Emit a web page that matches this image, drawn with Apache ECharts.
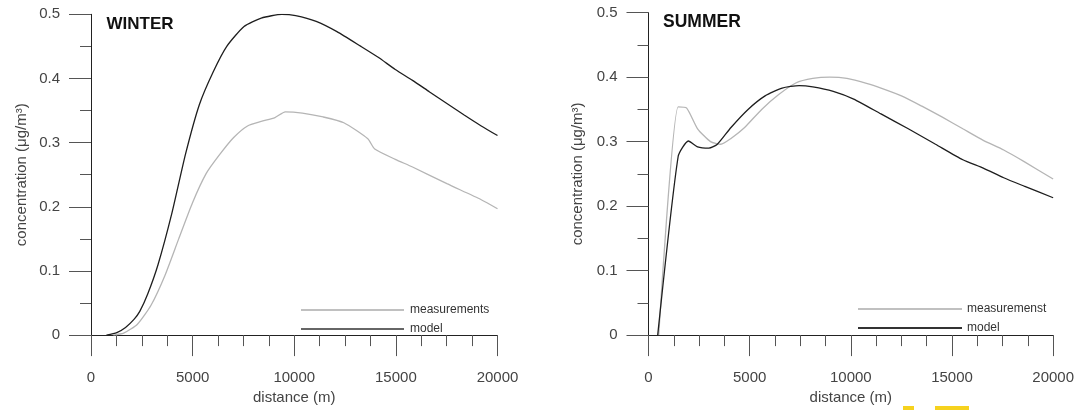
<!DOCTYPE html>
<html>
<head>
<meta charset="utf-8">
<script src="https://cdn.jsdelivr.net/npm/echarts@6/dist/echarts.min.js"></script>
<style>
html,body{margin:0;padding:0;background:#fff;}
#c{width:1077px;height:410px;}
</style>
</head>
<body>
<div id="c"></div>
<script>
// ---- data ----
const xTickLabels = ['0', '5000', '10000', '15000', '20000'];
const yTickLabels = ['0', '0.1', '0.2', '0.3', '0.4', '0.5'];

const winterModelX = [760, 1270, 1700, 2115, 2400, 2790, 3300, 3980, 4650, 5330, 6010, 6680, 7530, 8375, 9390, 10070, 11080, 12100, 13280, 14130, 14970, 15820, 16660, 17510, 18360, 19200, 20000];
const winterModelY = [0, 0.004, 0.012, 0.0245, 0.037, 0.064, 0.11, 0.19, 0.282, 0.359, 0.41, 0.45, 0.481, 0.494, 0.5, 0.498, 0.489, 0.473, 0.45, 0.433, 0.414, 0.397, 0.379, 0.361, 0.343, 0.326, 0.311];

const winterMeasX = [1100, 1607, 2284, 2960, 3638, 4315, 4990, 5670, 6345, 7020, 7700, 8375, 9050, 9560, 10400, 11420, 12440, 13620, 13960, 14970, 15820, 17510, 19200, 20000];
const winterMeasY = [0, 0.003, 0.017, 0.047, 0.093, 0.15, 0.206, 0.252, 0.282, 0.308, 0.326, 0.333, 0.339, 0.348, 0.346, 0.34, 0.331, 0.306, 0.29, 0.274, 0.262, 0.236, 0.211, 0.197];

const summerMeasX = [505, 1466, 1887, 2426, 3066, 3572, 4077, 4751, 5594, 6436, 7279, 8121, 8964, 9806, 10817, 11491, 12502, 13513, 14524, 15535, 16546, 17557, 18568, 20000];
const summerMeasY = [0, 0.354, 0.352, 0.32, 0.3, 0.296, 0.305, 0.322, 0.35, 0.373, 0.391, 0.398, 0.4, 0.398, 0.39, 0.383, 0.371, 0.355, 0.338, 0.32, 0.302, 0.287, 0.269, 0.242];

const summerModelX = [455, 1466, 1971, 2426, 2982, 3403, 4077, 4920, 5762, 6605, 7447, 8121, 9132, 10143, 11491, 12839, 14187, 15535, 16546, 17557, 18568, 20000];
const summerModelY = [0, 0.277, 0.301, 0.292, 0.29, 0.296, 0.322, 0.35, 0.371, 0.383, 0.387, 0.385, 0.378, 0.366, 0.343, 0.32, 0.296, 0.272, 0.259, 0.244, 0.231, 0.213];

const zip = (xs, ys) => xs.map((x, i) => [x, ys[i]]);

const FONT = 'Liberation Sans, Arial, sans-serif';
const MEAS_COLOR = '#b5b5b5';
const MODEL_COLOR = '#1e1e1e';

function xAxisCfg(gridIndex) {
  return {
    type: 'value', gridIndex, min: 0, max: 20000, interval: 5000,
    name: 'distance (m)', nameLocation: 'middle', nameGap: 51,
    nameTextStyle: { fontFamily: FONT, fontSize: 15, color: '#444' },
    axisLine: { show: true, onZero: false, lineStyle: { color: '#222', width: 1 } },
    axisTick: { show: true, length: 21, lineStyle: { color: '#555', width: 1 } },
    minorTick: { show: true, splitNumber: 4, length: 11, lineStyle: { color: '#555', width: 1 } },
    splitLine: { show: false },
    axisLabel: { margin: 35, fontFamily: FONT, fontSize: 15, color: '#444',
      formatter: v => xTickLabels[Math.round(v / 5000)] },
  };
}
function yAxisCfg(gridIndex, gap) {
  return {
    type: 'value', gridIndex, min: 0, max: 0.5, interval: 0.1,
    name: 'concentration (\u03bcg/m\u00b3)', nameLocation: 'middle', nameGap: gap,
    nameTextStyle: { fontFamily: FONT, fontSize: 15, color: '#444' },
    axisLine: { show: true, onZero: false, lineStyle: { color: '#222', width: 1 } },
    axisTick: { show: true, length: 22, lineStyle: { color: '#555', width: 1 } },
    minorTick: { show: true, splitNumber: 2, length: 11, lineStyle: { color: '#555', width: 1 } },
    splitLine: { show: false },
    axisLabel: { margin: 31, fontFamily: FONT, fontSize: 15, color: '#444',
      formatter: v => yTickLabels[Math.round(v * 10)] },
  };
}
function lineSeries(name, data, color, idx) {
  return {
    name, type: 'line', xAxisIndex: idx, yAxisIndex: idx, data,
    showSymbol: false, symbol: 'none', smooth: 0.2,
    lineStyle: { color, width: 1.3 }, itemStyle: { color },
    animation: false,
  };
}

const chart = echarts.init(document.getElementById('c'));
chart.setOption({
  animation: false,
  backgroundColor: '#fff',
  grid: [
    { left: 91, top: 14.3, width: 406.5, height: 326.7 },
    { left: 648.5, top: 12.7, width: 406.5, height: 327.3 },
  ],
  xAxis: [xAxisCfg(0), xAxisCfg(1)],
  yAxis: [yAxisCfg(0, 62), yAxisCfg(1, 63)],
  legend: [
    {
      orient: 'vertical', left: 296, top: 295.5, itemWidth: 103, itemHeight: 2, itemGap: 0,
      icon: 'rect',
      textStyle: { fontFamily: FONT, fontSize: 12, color: '#333', lineHeight: 19, padding: [0, 0, 0, 1] },
      data: [
        { name: 'measurements', itemStyle: { color: '#c0c0c0' } },
        { name: 'model', itemStyle: { color: '#666' } },
      ],
      selectedMode: false,
    },
    {
      orient: 'vertical', left: 853, top: 294.5, itemWidth: 104, itemHeight: 2, itemGap: 0,
      icon: 'rect',
      textStyle: { fontFamily: FONT, fontSize: 12, color: '#333', lineHeight: 19, padding: [0, 0, 0, 0] },
      data: [
        { name: 'measuremenst', itemStyle: { color: '#c0c0c0' } },
        { name: 'model ', itemStyle: { color: '#333' } },
      ],
      selectedMode: false,
    },
  ],
  series: [
    lineSeries('measurements', zip(winterMeasX, winterMeasY), MEAS_COLOR, 0),
    lineSeries('model', zip(winterModelX, winterModelY), MODEL_COLOR, 0),
    lineSeries('measuremenst', zip(summerMeasX, summerMeasY), MEAS_COLOR, 1),
    lineSeries('model ', zip(summerModelX, summerModelY), MODEL_COLOR, 1),
  ],
  graphic: [
    { type: 'text', left: 106.5, top: 16, style: { text: 'WINTER', fontFamily: FONT, fontWeight: 'bold', fontSize: 17, fill: '#111' } },
    { type: 'text', left: 663, top: 13.5, style: { text: 'SUMMER', fontFamily: FONT, fontWeight: 'bold', fontSize: 17.5, fill: '#111' } },
    { type: 'rect', left: 903, top: 406, shape: { width: 11, height: 4 }, style: { fill: '#f6d21e' } },
    { type: 'rect', left: 935, top: 406, shape: { width: 34, height: 4 }, style: { fill: '#f6d21e' } },
  ],
});
</script>
</body>
</html>
